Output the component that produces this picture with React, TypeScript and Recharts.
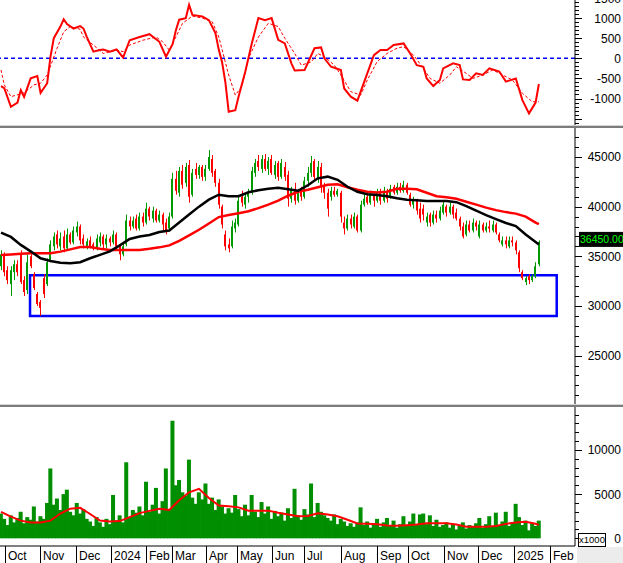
import { Bar, ComposedChart, Line, ReferenceArea, ReferenceLine, XAxis, YAxis } from 'recharts';

// one candle per two sessions, prices in hundreds: open, high, low, close
const candles = [
  [340, 356, 336, 352], [352, 354, 330, 334], [336, 340, 322, 326], [322, 340, 310, 336], [334, 346, 326, 342],
  [342, 346, 330, 334], [352, 356, 322, 324], [326, 330, 310, 314], [316, 352, 312, 344], [350, 352, 338, 340],
  [332, 334, 316, 318], [312, 314, 300, 302], [304, 306, 290, 298], [328, 332, 308, 312], [322, 348, 320, 344],
  [346, 366, 344, 362], [360, 374, 356, 370], [372, 376, 358, 362], [360, 374, 356, 368], [370, 376, 354, 358],
  [358, 378, 356, 372], [372, 374, 362, 364], [364, 380, 362, 376], [374, 385, 370, 380], [380, 382, 362, 366],
  [368, 372, 358, 362], [360, 368, 357, 365], [366, 370, 358, 360], [362, 364, 356, 358], [358, 372, 356, 368],
  [364, 374, 360, 370], [370, 372, 358, 362], [362, 372, 358, 368], [368, 370, 360, 364], [364, 376, 362, 372],
  [372, 374, 356, 360], [360, 362, 346, 352], [352, 364, 350, 360], [362, 392, 360, 386], [386, 390, 376, 380],
  [380, 390, 378, 386], [388, 392, 376, 378], [378, 394, 376, 390], [390, 394, 380, 384], [384, 404, 382, 398],
  [398, 400, 386, 390], [388, 400, 384, 396], [396, 398, 384, 386], [386, 396, 384, 392], [392, 394, 376, 382],
  [384, 388, 372, 376], [378, 394, 376, 390], [390, 434, 388, 428], [428, 436, 412, 416], [414, 440, 410, 436],
  [436, 442, 418, 422], [424, 444, 420, 440], [442, 447, 404, 410], [412, 438, 410, 434], [438, 444, 428, 432],
  [432, 442, 428, 440], [440, 442, 426, 430], [430, 442, 426, 438], [438, 457, 436, 450], [448, 452, 430, 434],
  [436, 438, 420, 424], [424, 428, 398, 402], [400, 402, 378, 382], [372, 376, 356, 360], [362, 368, 354, 358],
  [360, 386, 358, 380], [378, 388, 374, 384], [382, 412, 380, 406], [410, 416, 400, 404], [402, 414, 398, 410],
  [410, 418, 404, 414], [414, 440, 412, 436], [434, 448, 430, 444], [446, 452, 436, 440], [438, 452, 434, 448],
  [448, 453, 436, 438], [438, 450, 432, 446], [448, 452, 432, 434], [432, 446, 428, 442], [444, 446, 426, 430],
  [430, 448, 428, 444], [440, 445, 426, 430], [432, 436, 400, 408], [408, 420, 404, 416], [418, 424, 402, 406],
  [406, 418, 404, 414], [416, 420, 406, 410], [410, 430, 408, 426], [426, 440, 420, 434], [434, 451, 430, 444],
  [446, 448, 426, 430], [428, 446, 424, 440], [440, 444, 414, 420], [420, 424, 408, 414], [414, 418, 390, 398],
  [410, 420, 406, 416], [416, 420, 410, 412], [412, 418, 410, 416], [414, 416, 384, 390], [384, 390, 372, 378],
  [378, 392, 376, 388], [388, 392, 378, 382], [380, 394, 378, 390], [390, 392, 374, 376], [376, 406, 374, 402],
  [402, 412, 400, 408], [410, 414, 402, 404], [404, 416, 402, 412], [412, 414, 400, 406], [406, 418, 404, 414],
  [414, 418, 402, 406], [406, 420, 404, 416], [416, 418, 404, 408], [410, 422, 408, 418], [420, 422, 412, 414],
  [414, 424, 412, 420], [420, 424, 414, 416], [416, 426, 414, 422], [422, 424, 412, 414], [412, 414, 400, 402],
  [402, 410, 398, 406], [406, 408, 392, 396], [398, 404, 384, 388], [398, 402, 386, 392], [384, 394, 380, 390],
  [392, 394, 380, 384], [384, 396, 382, 392], [392, 396, 384, 388], [388, 400, 386, 396], [394, 406, 392, 402],
  [400, 402, 390, 394], [394, 404, 392, 400], [400, 402, 388, 392], [394, 398, 386, 388], [388, 390, 376, 380],
  [380, 384, 368, 370], [372, 386, 370, 382], [382, 386, 374, 376], [376, 388, 374, 384], [384, 386, 376, 380],
  [370, 386, 368, 382], [382, 384, 374, 376], [376, 384, 374, 380], [380, 386, 374, 378], [376, 386, 374, 382],
  [382, 384, 372, 374], [372, 374, 364, 366], [362, 370, 360, 366], [366, 370, 358, 362], [360, 370, 358, 366],
  [366, 370, 360, 364], [364, 366, 352, 356], [354, 356, 334, 338], [334, 336, 326, 328], [324, 330, 321, 328],
  [330, 332, 322, 326], [326, 332, 324, 330], [330, 344, 328, 340], [342, 366, 340, 364.5],
];

// volume of the same candles, in the axis unit (x1000)
const volume = [
  2800, 2200, 1500, 2600, 1800, 2300, 3000, 1700, 2400, 2100,
  3600, 1900, 2500, 2200, 4000, 7900, 3800, 4500, 3200, 5000,
  5500, 3000, 2600, 4000, 2800, 3300, 2200, 1900, 1400, 2400,
  1800, 1300, 2200, 1600, 4900, 2000, 2600, 1800, 8600, 2400,
  3200, 2900, 3600, 2600, 6400, 3000, 3800, 5700, 2800, 4200,
  7900, 3300, 13300, 6000, 6600, 5200, 4800, 8900, 4600, 3900,
  5200, 4400, 6200, 3900, 4600, 3200, 4400, 3600, 2800, 3400,
  2900, 4900, 3300, 2500, 3800, 2600, 4900, 3000, 2400, 4100,
  2800, 3600, 2200, 3100, 2500, 2900, 2000, 3400, 2300, 5600,
  2600, 2100, 3300, 2700, 6200, 2400, 4000, 3000, 2600, 2300,
  2000, 2700, 1600, 2200, 1900, 1400, 1700, 1300, 1800, 3500,
  1500, 1900, 1200, 1700, 2200, 1300, 1800, 2300, 1400, 2000,
  1200, 1600, 2500, 1400, 1900, 2800, 1500, 2700, 2800, 1600,
  2600, 1400, 2100, 1300, 1500, 1800, 1200, 1600, 1000, 1400,
  1800, 1100, 1500, 1300, 1700, 2300, 1200, 1600, 2500, 1300,
  2900, 1500, 1900, 3000, 1400, 1800, 3900, 2400, 1500, 2000,
  900, 1700, 1400, 2000,
];

// lines read at selected candles: [candle index, value]
const maBlack = [
  [0, 373.8], [3, 369.5], [6, 361.5], [9, 355], [12, 348], [15, 345.3], [18, 343.6], [21, 342.9], [24, 344], [27, 348],
  [30, 351.5], [33, 355], [36, 361], [39, 367.5], [42, 370], [45, 371.5], [48, 374.5], [51, 376], [54, 384], [57, 392],
  [60, 400], [63, 407], [66, 412], [69, 410.5], [72, 410.5], [75, 414.5], [78, 416.5], [81, 418], [84, 419], [87, 417.5],
  [90, 416], [93, 421.5], [96, 428.5], [99, 430.2], [102, 427], [105, 420], [108, 415], [111, 412.4], [114, 411.8], [117, 410.5],
  [120, 408.5], [123, 407], [126, 406.5], [129, 405.7], [132, 405.7], [135, 405.7], [138, 404.5], [141, 400.5], [144, 396], [147, 391.5],
  [150, 387.5], [153, 383.5], [156, 380.5], [159, 372], [162, 364.5], [163, 362],
];

const maRed = [
  [0, 351.3], [3, 351.8], [6, 352.5], [9, 353], [12, 353], [15, 353], [18, 354.7], [21, 357], [24, 359.4], [27, 359.4],
  [30, 357.7], [33, 356.3], [36, 356.3], [39, 356.3], [42, 356.3], [45, 357.5], [48, 359], [51, 361], [54, 365.5], [57, 371],
  [60, 376.7], [63, 383], [66, 389.5], [69, 391.5], [72, 393.3], [75, 395.3], [78, 398.5], [81, 402], [84, 406], [87, 411],
  [90, 415], [93, 417], [96, 419.5], [99, 422], [102, 422.5], [105, 419.5], [108, 417], [111, 415], [114, 414.2], [117, 415],
  [120, 418], [123, 418], [126, 417.5], [129, 414], [132, 410.5], [135, 409.5], [138, 408], [141, 405], [144, 402], [147, 399],
  [150, 396.5], [153, 394.5], [156, 393], [159, 390], [162, 384], [163, 382.5],
];

const volumeMa = [
  [0, 3000], [3, 2450], [6, 2000], [9, 1780], [12, 1800], [15, 2000], [18, 2800], [21, 3350], [24, 3450], [27, 2750],
  [30, 2000], [33, 1900], [36, 1950], [39, 2400], [42, 2850], [45, 3100], [48, 3350], [51, 3200], [54, 4300], [57, 5200],
  [60, 5600], [63, 4550], [66, 3700], [69, 3620], [72, 3500], [75, 3130], [78, 3130], [81, 3130], [84, 2900], [87, 2700],
  [90, 2500], [93, 2530], [96, 2830], [99, 2680], [102, 2500], [105, 2100], [108, 1680], [111, 1640], [114, 1580], [117, 1450],
  [120, 1420], [123, 1480], [126, 1560], [129, 1700], [132, 1700], [135, 1700], [138, 1550], [141, 1320], [144, 1320], [147, 1320],
  [150, 1400], [153, 1630], [156, 1800], [159, 1870], [162, 1650], [163, 1520],
];

const oscMain = [
  [0, -690], [1, -740], [3, -1205], [5, -1100], [6, -790], [7, -960], [9, -500], [11, -440], [12, -860], [14, -620],
  [15, 40], [16, 500], [18, 790], [19, 970], [20, 850], [22, 740], [24, 800], [25, 740], [26, 535], [28, 165],
  [30, 205], [31, 220], [33, 165], [35, 220], [37, 20], [39, 450], [42, 530], [45, 600], [48, 410], [50, 40],
  [52, 350], [53, 700], [54, 960], [56, 1000], [57, 1330], [58, 1080], [61, 1040], [63, 950], [65, 620], [66, 210],
  [67, -100], [68, -600], [69, -1330], [71, -1290], [72, -950], [74, -340], [76, 370], [78, 1000], [80, 950], [82, 1000],
  [84, 460], [86, 370], [88, -125], [89, -305], [92, -290], [95, 250], [97, 270], [98, 0], [100, -210], [103, -290],
  [104, -750], [106, -955], [108, -1055], [111, -375], [113, 80], [115, 205], [117, 205], [119, 330], [122, 370], [124, 120],
  [126, -170], [128, -210], [129, -500], [131, -690], [133, -540], [134, -250], [137, -125], [139, -170], [140, -525], [142, -540],
  [144, -375], [146, -415], [148, -250], [151, -330], [153, -580], [156, -500], [158, -1040], [160, -1370], [162, -1100], [163, -640],
];

const oscSignal = [
  [0, -290], [1, -660], [3, -955], [7, -860], [10, -660], [12, -620], [14, -415], [17, 250], [19, 660], [21, 790],
  [24, 720], [25, 530], [28, 330], [31, 120], [35, 205], [37, 165], [39, 330], [43, 450], [47, 530], [49, 410],
  [51, 205], [53, 530], [55, 870], [58, 1050], [61, 1000], [64, 910], [66, 530], [69, -415], [71, -915], [73, -700],
  [75, 0], [78, 530], [81, 870], [84, 790], [86, 500], [89, 120], [91, -170], [94, -90], [96, 120], [98, 40],
  [101, -170], [103, -415], [106, -830], [109, -915], [111, -540], [114, -80], [117, 120], [120, 250], [122, 290], [125, 80],
  [128, -250], [130, -500], [133, -620], [136, -415], [138, -210], [141, -375], [143, -500], [146, -415], [149, -290], [152, -415],
  [155, -540], [158, -870], [161, -1080], [163, -1080],
];

const monthLabels = ['Oct', 'Nov', 'Dec', '2024', 'Feb', 'Mar', 'Apr', 'May', 'Jun', 'Jul', 'Aug', 'Sep', 'Oct', 'Nov', 'Dec', '2025', 'Feb'];
const monthStarts = [1.15, 11.97, 22.8, 33.2, 43.8, 51.7, 62.1, 71.5, 82.0, 91.9, 103.0, 113.8, 123.2, 134.1, 144.6, 155.5, 166.3];

const lastPrice = 36450;
const zone = { from: 8.8, to: 168.4, low: 29000, high: 33100 };

const rows: Record<string, number>[] = candles.map(([o, h, l, c], k) => ({
  k, o: o * 100, h: h * 100, l: l * 100, c: c * 100, vol: volume[k],
}));
const put = (pairs: number[][], key: string, mult = 1) =>
  pairs.forEach(([k, v]) => { rows[k][key] = v * mult; });
put(maBlack, 'maBlack', 100);
put(maRed, 'maRed', 100);
put(volumeMa, 'volMa');
put(oscMain, 'osc');
put(oscSignal, 'sig');

const font = 'Liberation Sans, Arial, sans-serif';
const xDomain = [-0.3, 173.94];
const steps = (from: number, to: number, step: number) => {
  const out: number[] = [];
  for (let v = from; v <= to; v += step) out.push(v);
  return out;
};

const Candle = (props: any) => {
  const { x, y, width, height, payload } = props;
  if (height == null || !payload) return null;
  const top = Math.min(y, y + height);
  const span = Math.abs(height);
  const { o, h, l, c } = payload;
  const at = (v: number) => top + ((h - v) / (h - l || 1)) * span;
  const color = c >= o ? '#009a00' : '#ff0000';
  const cx = Math.round(x + width / 2);
  const bodyTop = at(Math.max(o, c));
  const bodyH = Math.max(1, at(Math.min(o, c)) - bodyTop);
  return (
    <g>
      <rect x={cx} y={top} width={1} height={span} fill={color} />
      <rect x={cx - 1} y={bodyTop} width={2} height={bodyH} fill={color} />
    </g>
  );
};

// volume column a little wider than the candle step so the base reads as solid
const VolumeBar = (props: any) => {
  const { x, y, width, height } = props;
  if (height == null) return null;
  const cx = x + width / 2;
  return <rect x={cx - 2} y={Math.min(y, y + height)} width={4} height={Math.abs(height)} fill="#008f00" />;
};

// labelled ticks every `labelEvery`, short ones between; `hide` drops labels too close to the panel edge
const sideTick = (labelEvery: number, hide: number[] = []) => (props: any) => {
  const { x, y, payload } = props;
  const v = payload.value;
  const major = v % labelEvery === 0;
  const yy = Math.round(y) + 0.5;
  return (
    <g>
      <line x1={x} x2={x + (major ? 7 : 4)} y1={yy} y2={yy} stroke="#000" />
      {major && !hide.includes(v) && (
        <text x={621} y={y + 4.5} textAnchor="end" fontSize={12} fontFamily={font} fill="#000">{v}</text>
      )}
    </g>
  );
};

const MonthTick = (props: any) => {
  const { x, y, payload } = props;
  const i = monthStarts.indexOf(payload.value);
  const xx = Math.round(x) + 0.5;
  return (
    <g>
      <line x1={xx} x2={xx} y1={y} y2={y + 17} stroke="#000" />
      <text x={xx + 2.5} y={y + 14} fontSize={12} fontFamily={font} fill="#000">{monthLabels[i]}</text>
    </g>
  );
};

const PriceTag = (props: any) => {
  const { viewBox } = props;
  const x = viewBox.x + viewBox.width + 4;
  const y = viewBox.y;
  return (
    <g>
      <rect x={x} y={y - 10} width={50} height={15} fill="#000" />
      <text x={x + 1} y={y + 1.5} fontSize={10.5} fontFamily={font} fill="#00ff00">{lastPrice.toFixed(2)}</text>
    </g>
  );
};

const margin = { top: 0, right: 0, bottom: 0, left: 0 };

export default function App() {
  return (
    <div style={{ position: 'absolute', left: 0, top: 0, width: 623, height: 563, overflow: 'hidden', background: '#fff', fontFamily: font }}>
      <div style={{ position: 'absolute', left: 0, top: -10 }}>
        <ComposedChart width={623} height={136} data={rows} margin={margin}>
          <XAxis type="number" dataKey="k" domain={xDomain} allowDataOverflow hide />
          <YAxis orientation="right" width={48} type="number" domain={[-1684, 1699]} allowDataOverflow
            ticks={steps(-1600, 1600, 100)} interval={0} tick={sideTick(500, [-1500])} tickSize={0} tickMargin={0}
            tickLine={false} axisLine={{ stroke: '#000' }} />
          <ReferenceLine y={0} stroke="#0000ff" strokeDasharray="4 3" strokeWidth={1.5} />
          <Line dataKey="sig" stroke="#ff0000" strokeWidth={1} strokeDasharray="3 2" dot={false} activeDot={false} connectNulls isAnimationActive={false} />
          <Line dataKey="osc" stroke="#ff0000" strokeWidth={2} dot={false} activeDot={false} connectNulls isAnimationActive={false} />
        </ComposedChart>
      </div>

      <div style={{ position: 'absolute', left: 0, top: 128 }}>
        <ComposedChart width={623} height={276} data={rows} margin={margin}>
          <XAxis type="number" dataKey="k" domain={xDomain} allowDataOverflow hide />
          <YAxis orientation="right" width={48} type="number" domain={[20126, 47920]} allowDataOverflow
            ticks={steps(21000, 47000, 1000)} interval={0} tick={sideTick(5000)} tickSize={0} tickMargin={0}
            tickLine={false} axisLine={{ stroke: '#000' }} />
          <Bar dataKey={(d: any) => [d.l, d.h]} barSize={3} shape={Candle} isAnimationActive={false} />
          <Line dataKey="maRed" stroke="#ff0000" strokeWidth={2.5} dot={false} activeDot={false} connectNulls isAnimationActive={false} />
          <Line dataKey="maBlack" stroke="#000" strokeWidth={2.5} dot={false} activeDot={false} connectNulls isAnimationActive={false} />
          <ReferenceArea x1={zone.from} x2={zone.to} y1={zone.low} y2={zone.high} fill="none" fillOpacity={0}
            stroke="#0000ff" strokeWidth={2.5} />
          <ReferenceLine y={lastPrice} stroke="none" label={<PriceTag />} />
        </ComposedChart>
      </div>

      <div style={{ position: 'absolute', left: 0, top: 407 }}>
        <ComposedChart width={623} height={156} data={rows} margin={margin}>
          <XAxis type="number" dataKey="k" domain={xDomain} allowDataOverflow ticks={monthStarts} interval={0}
            tick={MonthTick} tickSize={0} tickMargin={0} height={17} axisLine={{ stroke: '#000' }} />
          <YAxis orientation="right" width={48} type="number" domain={[-871, 14853]} allowDataOverflow
            ticks={steps(0, 14000, 1000)} interval={0} tick={sideTick(5000)} tickSize={0} tickMargin={0}
            tickLine={false} axisLine={{ stroke: '#000' }} />
          <Bar dataKey="vol" barSize={3} shape={VolumeBar} fill="#008f00" isAnimationActive={false} />
          <Line dataKey="volMa" stroke="#ff0000" strokeWidth={2} dot={false} activeDot={false} connectNulls isAnimationActive={false} />
        </ComposedChart>
      </div>

      <div style={{ position: 'absolute', left: 0, top: 125, width: 623, height: 1, background: '#d4d4d4' }} />
      <div style={{ position: 'absolute', left: 0, top: 126, width: 623, height: 2, background: '#7c7c7c' }} />
      <div style={{ position: 'absolute', left: 0, top: 404, width: 623, height: 1, background: '#d4d4d4' }} />
      <div style={{ position: 'absolute', left: 0, top: 405, width: 623, height: 2, background: '#7c7c7c' }} />
      <div style={{ position: 'absolute', left: 577, top: 547, width: 46, height: 16, background: '#ececec' }} />
      <div style={{ position: 'absolute', left: 578, top: 533, width: 26, height: 12, border: '1px solid #000', background: '#fff', fontSize: 9.5, lineHeight: '12px', textAlign: 'center' }}>x1000</div>
    </div>
  );
}
